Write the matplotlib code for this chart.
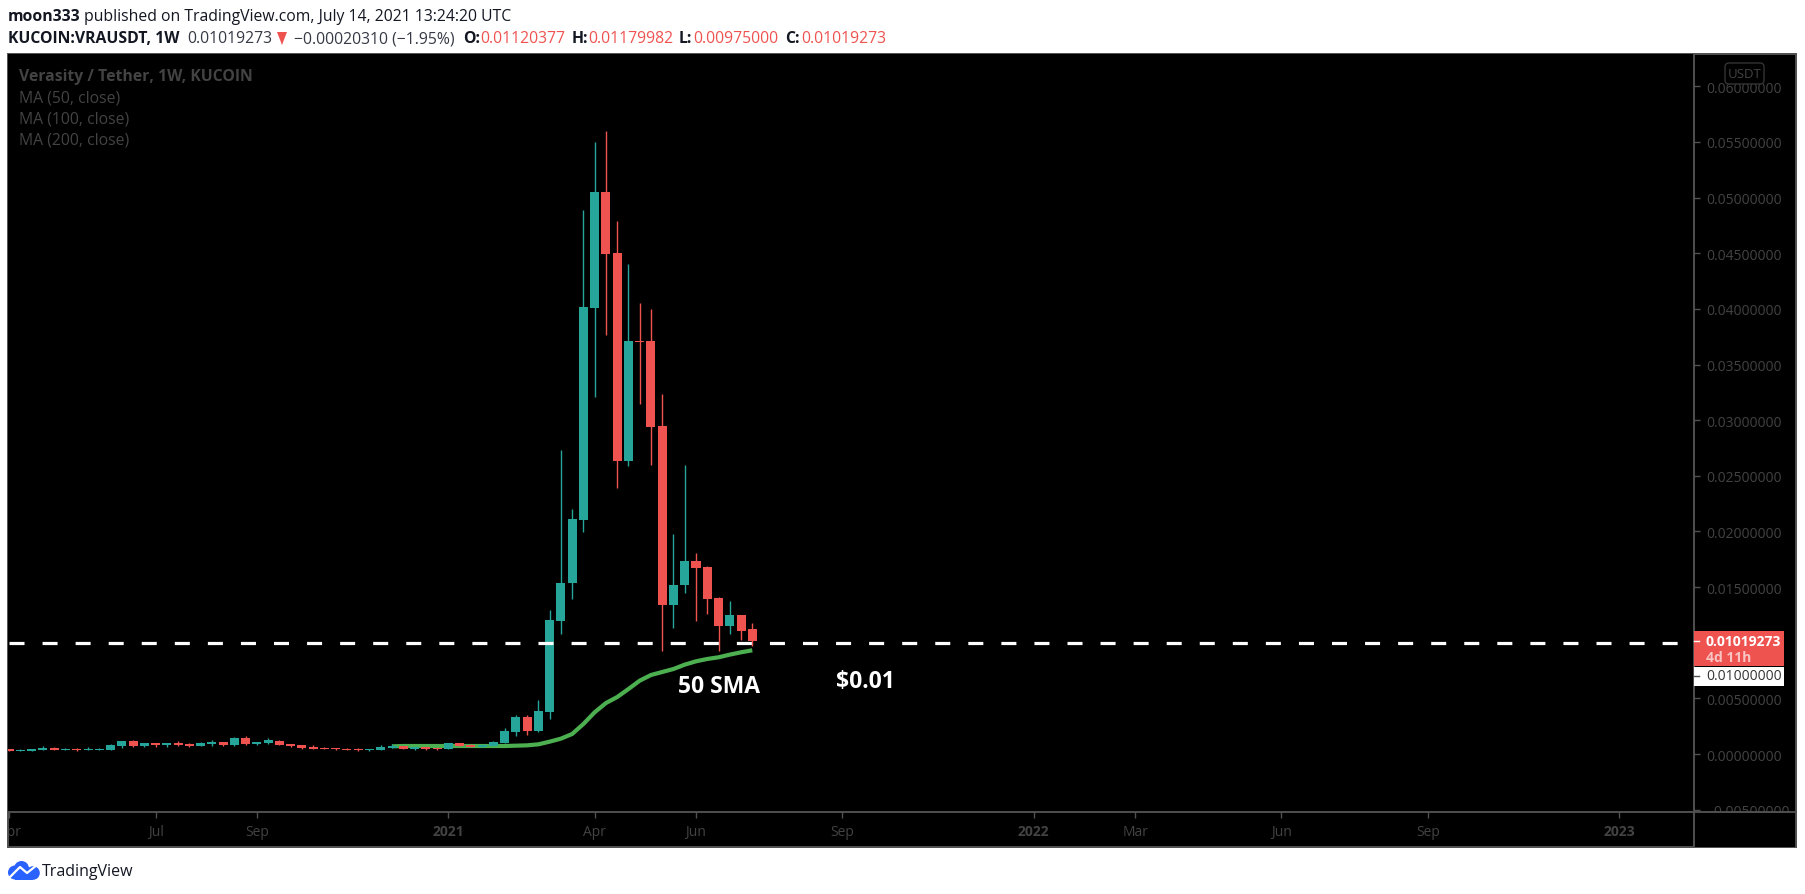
import matplotlib
matplotlib.use("Agg")
import matplotlib.pyplot as plt
from matplotlib.patches import Rectangle, Circle, Polygon, FancyBboxPatch
import numpy as np

# weekly candles, first one is the week of Apr 6 2020
open_ = [.00045, .00027, .00027, .00036, .00054, .00036, .00045, .00036, .00036, .00036,
         .00072, .00117, .00072, .00099, .00081, .00099, .00090, .00072, .00090, .00108,
         .00081, .00144, .00090, .00099, .00117, .00090, .00081, .00063, .00054, .00054,
         .00045, .00045, .00036, .00036, .00054, .00072, .00045, .00063, .00054, .00045,
         .00099, .00081, .00063, .00072, .00099, .00198, .00333, .00207, .00378, .01196,
         .01537, .02104, .04010, .05052, .04504, .02634, .03713, .03713, .02949, .01340,
         .01519, .01735, .01681, .01402, .01151, .01250, .01120377]
high = [.00045, .00045, .00045, .00072, .00063, .00054, .00054, .00063, .00054, .00090,
        .00117, .00126, .00099, .00099, .00099, .00117, .00099, .00108, .00126, .00108,
        .00153, .00162, .00108, .00144, .00126, .00090, .00081, .00081, .00063, .00054,
        .00054, .00054, .00045, .00081, .00090, .00072, .00063, .00063, .00054, .00099,
        .00099, .00090, .00081, .00117, .00234, .00351, .00351, .00485, .01295, .02733,
        .02203, .04891, .05502, .05601, .04792, .04405, .04054, .04001, .03236, .01978,
        .02598, .01807, .01690, .01411, .01375, .01250, .01179982]
low = [.00027, .00027, .00027, .00036, .00036, .00036, .00027, .00036, .00036, .00036,
       .00054, .00063, .00063, .00063, .00063, .00072, .00063, .00072, .00072, .00072,
       .00072, .00081, .00081, .00090, .00081, .00063, .00045, .00045, .00045, .00036,
       .00036, .00027, .00027, .00036, .00054, .00045, .00036, .00036, .00036, .00045,
       .00072, .00063, .00063, .00072, .00099, .00162, .00171, .00198, .00315, .01079,
       .01393, .01996, .03209, .03767, .02391, .02589, .03147, .02598, .00926, .01133,
       .01447, .01196, .01259, .00926, .01079, .01025, .00975000]
close = [.00027, .00036, .00045, .00054, .00036, .00045, .00036, .00045, .00045, .00081,
         .00117, .00072, .00099, .00081, .00099, .00081, .00072, .00099, .00108, .00081,
         .00144, .00090, .00108, .00126, .00081, .00072, .00054, .00045, .00045, .00045,
         .00036, .00036, .00045, .00063, .00072, .00045, .00063, .00045, .00045, .00099,
         .00072, .00063, .00081, .00108, .00207, .00333, .00207, .00387, .01205, .01537,
         .02113, .04019, .05052, .04495, .02634, .03713, .03704, .02940, .01340, .01519,
         .01735, .01672, .01393, .01151, .01250, .01106, .01019273]

# 50 SMA, starts at candle 34
sma_start = 34
sma = [.00069, .00072, .00072, .00072, .00072, .00072, .00072, .00072, .00072, .00072,
       .00072, .00075, .00078, .00087, .00111, .00138, .00180, .00270, .00375, .00458,
       .00512, .00584, .00659, .00710, .00737, .00764, .00803, .00833, .00854, .00869,
       .00893, .00914, .00932]

ytick_vals = [-.005, 0, .005, .015, .02, .025, .03, .035, .04, .045, .05, .055, .06]
xtick_pos = [0, 13, 22, 39, 52, 61, 74, 91, 100, 113, 126, 143]
xtick_labels = ["Apr", "Jul", "Sep", "2021", "Apr", "Jun", "Sep", "2022", "Mar", "Jun", "Sep", "2023"]
level = 0.01

up_color = "#26a69a"
down_color = "#ef5350"
frame_color = "#505050"
dim_text = "#434343"
W, H = 1805, 895
plt.rcParams["font.family"] = ["Open Sans", "DejaVu Sans"]

fig = plt.figure(figsize=(W / 100, H / 100), dpi=100, facecolor="white")

# panel under everything, in pixels
bg = fig.add_axes([0, 0, 1, 1], zorder=0)
bg.set_xlim(0, W)
bg.set_ylim(H, 0)
bg.axis("off")
bg.add_patch(Rectangle((8, 55), 1788, 793, fc="black", ec=frame_color, lw=1.4))

# price pane
ax = fig.add_axes([8 / W, 1 - 813 / H, (1694 - 8) / W, (813 - 55) / H], zorder=1)
ax.set_facecolor("black")
ax.set_xlim(-0.107, 149.64)
ax.set_ylim(-0.00521, 0.0629)
for s in ["top", "left"]:
    ax.spines[s].set_visible(False)
for s in ["right", "bottom"]:
    ax.spines[s].set_color(frame_color)
    ax.spines[s].set_linewidth(1.4)

x = np.arange(len(open_))
o = np.array(open_)
c = np.array(close)
colors = [up_color if c[i] >= o[i] else down_color for i in x]

ax.plot(x[sma_start:], sma, color="#4caf50", lw=3, zorder=2, solid_capstyle="butt")
ax.vlines(x, low, high, colors=colors, lw=1.0, zorder=3)
ax.bar(x, np.maximum(np.abs(c - o), 0.0001), bottom=np.minimum(o, c), width=0.8, color=colors, lw=0, zorder=3)
ax.plot([0, 149.64], [level, level], color="white", lw=2.3, ls=(0, (4.7, 5.65)), zorder=4)

ax.yaxis.tick_right()
ax.set_yticks(ytick_vals)
ax.set_yticklabels(["\u22120.00500000" if v < 0 else "%.8f" % v for v in ytick_vals])
ax.tick_params(axis="y", length=4, width=1, color=frame_color, labelcolor=dim_text, labelsize=10, pad=5)
ax.set_xticks(xtick_pos)
ax.set_xticklabels(xtick_labels)
ax.tick_params(axis="x", length=4, width=1, color=frame_color, labelcolor=dim_text, labelsize=10, pad=5)
for lab in ax.get_xticklabels():
    if lab.get_text().isdigit():
        lab.set_fontweight("bold")

ax.text(59.4, 0.00611, "50 SMA", color="white", fontsize=16.5, fontweight="bold", ha="left", va="center", zorder=5)
ax.text(73.4, 0.00655, "$0.01", color="white", fontsize=16.5, fontweight="bold", ha="left", va="center", zorder=5)

# overlay: labels, price tags, header
top = fig.add_axes([0, 0, 1, 1], zorder=2)
top.set_xlim(0, W)
top.set_ylim(H, 0)
top.axis("off")
top.patch.set_alpha(0)

# the panes clip their labels
top.add_patch(Rectangle((1695, 814), 100, 33.5, fc="black", ec="none"))
top.add_patch(Rectangle((0, 814), 7.5, 33, fc="white", ec="none"))
top.plot([8, 8], [813, 848], color=frame_color, lw=1.4)
top.plot([1694, 1694], [813, 848], color=frame_color, lw=1.4)
top.plot([1694, 1796], [813, 813], color=frame_color, lw=1.4)

top.add_patch(FancyBboxPatch((1728, 67), 33, 15, boxstyle="round,pad=3,rounding_size=4", fc=(0, 0, 0, 0.8), ec="#333333", lw=1))
top.text(1744.5, 74.5, "USDT", color=dim_text, fontsize=9.5, ha="center", va="center")

top.add_patch(Rectangle((1694, 632), 90, 35, fc=down_color, ec="none"))
top.add_patch(Rectangle((1694, 668), 90, 19, fc="white", ec="none"))
top.plot([1694, 1699], [642, 642], color="white", lw=1)
top.plot([1694, 1699], [677, 677], color=frame_color, lw=1)
top.text(1706, 642, "0.01019273", color="white", fontsize=10, fontweight="bold", va="center")
top.text(1706, 658, "4d 11h", color="#f9c4c2", fontsize=10, fontweight="bold", va="center")
top.text(1706, 677, "0.01000000", color="#333333", fontsize=10, va="center")

for yy, txt, wt in [(77, "Verasity / Tether, 1W, KUCOIN", "bold"), (98, "MA (50, close)", "normal"),
                    (119, "MA (100, close)", "normal"), (140, "MA (200, close)", "normal")]:
    top.text(19, yy, txt, color=dim_text, fontsize=11.3, fontweight=wt, va="center")

dark = "#131722"
top.text(8, 17, "moon333", color=dark, fontsize=11.3, fontweight="bold", va="center")
top.text(84, 17, "published on TradingView.com, July 14, 2021 13:24:20 UTC", color=dark, fontsize=11.3, va="center")
top.text(8, 39, "KUCOIN:VRAUSDT, 1W", color=dark, fontsize=11.3, fontweight="bold", va="center")
top.text(187, 39, "0.01019273", color="#363a45", fontsize=11.3, va="center")
top.add_patch(Polygon([[277, 33], [287, 33], [282, 46]], fc=down_color, ec="none"))
top.text(294, 39, "\u22120.00020310 (\u22121.95%)", color="#363a45", fontsize=11.3, va="center")
for lx, name, vx, val in [(463, "O:", 480, "0.01120377"), (572, "H:", 588, "0.01179982"),
                          (679, "L:", 693, "0.00975000"), (785, "C:", 801, "0.01019273")]:
    top.text(lx, 39, name, color=dark, fontsize=11.3, fontweight="bold", va="center")
    top.text(vx, 39, val, color=down_color, fontsize=11.3, va="center")

# logo
blue = "#2962ff"
top.add_patch(Circle((15, 873.5), 7, fc=blue, ec="none"))
top.add_patch(Circle((21.5, 869.5), 7.5, fc=blue, ec="none"))
top.add_patch(Circle((33, 874), 6.8, fc=blue, ec="none"))
top.add_patch(Rectangle((15, 873), 18, 8, fc=blue, ec="none"))
top.plot([10, 20, 27, 37], [878, 868, 874, 866], color="white", lw=1.6)
top.text(42, 872, "TradingView", color=dark, fontsize=11.5, va="center")

fig.savefig("out.png", dpi=100, facecolor="white")
